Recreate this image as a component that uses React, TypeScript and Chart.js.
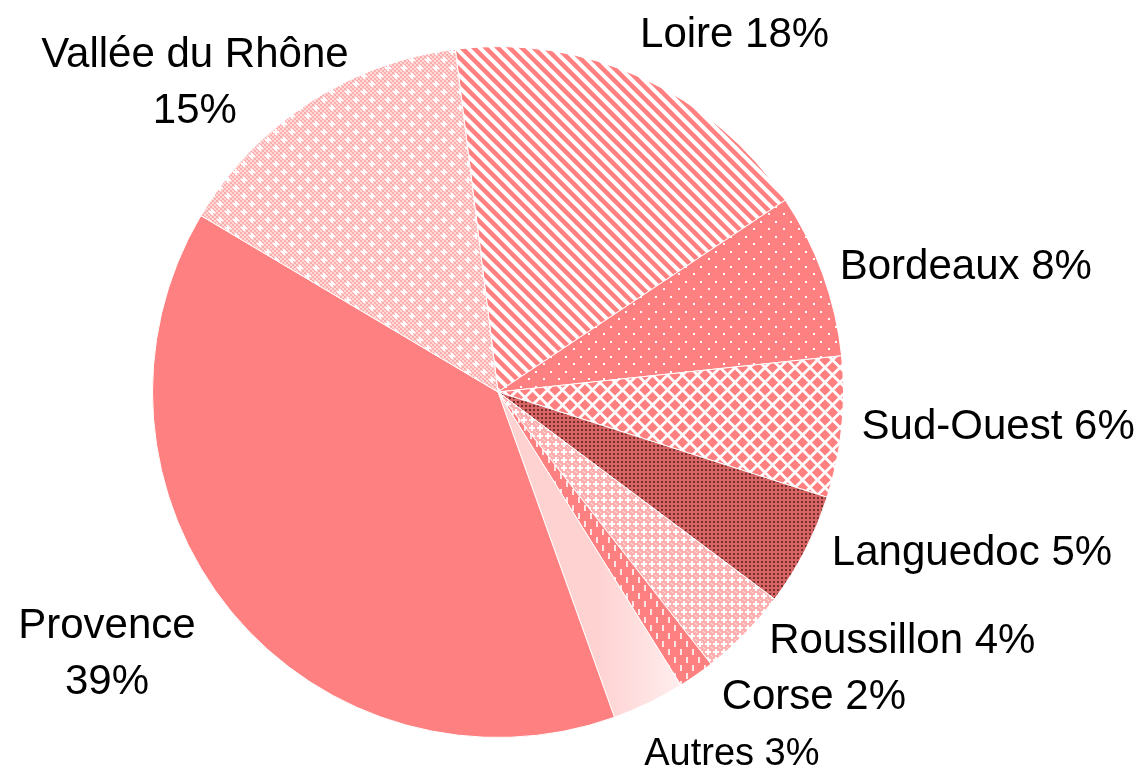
import React, { useEffect, useRef } from 'react';
import { Chart, registerables } from 'chart.js';

Chart.register(...registerables);

// ---- data ----
const regions = ['Loire', 'Bordeaux', 'Sud-Ouest', 'Languedoc', 'Roussillon', 'Corse', 'Autres', 'Provence', 'Vallée du Rhône'];
const shares = [17.6, 7.7, 6.6, 5.3, 4.2, 1.7, 3.4, 39.0, 14.5];
const percentLabels = ['18%', '8%', '6%', '5%', '4%', '2%', '3%', '39%', '15%'];

// ---- label layout (offsets from a radial anchor just outside each slice) ----
type Lay = { dx: number; dy: number; align: CanvasTextAlign; size: number; twoLine: boolean };
const labelLayout: Lay[] = [
  { dx: -10, dy: -28, align: 'left', size: 42, twoLine: false },
  { dx: -2, dy: -4, align: 'left', size: 42, twoLine: false },
  { dx: 0, dy: -5, align: 'left', size: 42, twoLine: false },
  { dx: 9, dy: -10, align: 'left', size: 42, twoLine: false },
  { dx: 10, dy: -10, align: 'left', size: 42, twoLine: false },
  { dx: 14, dy: 2, align: 'left', size: 42, twoLine: false },
  { dx: -13, dy: 30, align: 'left', size: 38, twoLine: false },
  { dx: -109, dy: -2, align: 'center', size: 42, twoLine: true },
  { dx: -103, dy: -34, align: 'center', size: 42, twoLine: true },
];

const PINK = '#FF8080';

function makePattern(w: number, h: number, draw: (c: CanvasRenderingContext2D) => void): CanvasPattern | string {
  const cv = document.createElement('canvas');
  cv.width = w;
  cv.height = h;
  const c = cv.getContext('2d');
  if (!c) return PINK;
  draw(c);
  const ctx = document.createElement('canvas').getContext('2d');
  const p = ctx ? ctx.createPattern(cv, 'repeat') : null;
  return p || PINK;
}

function buildFills(): (CanvasPattern | string | null)[] {
  // Loire: diagonal stripes
  const S = 12;
  const loire = makePattern(S, S, (c) => {
    c.fillStyle = PINK;
    c.fillRect(0, 0, S, S);
    c.strokeStyle = '#FFFFFF';
    c.lineWidth = 4;
    for (let k = -1; k <= 1; k++) {
      c.beginPath();
      c.moveTo(k * S - 2, -2);
      c.lineTo(k * S + S + 2, S + 2);
      c.stroke();
    }
  });
  // Bordeaux: small white dots, staggered
  const bordeaux = makePattern(15, 15, (c) => {
    c.fillStyle = PINK;
    c.fillRect(0, 0, 15, 15);
    c.fillStyle = '#FFFFFF';
    c.fillRect(3, 3, 2, 2);
    c.fillRect(10, 11, 2, 2);
  });
  // Sud-Ouest: diamond checker
  const sudOuest = makePattern(15, 15, (c) => {
    c.fillStyle = '#FFFFFF';
    c.fillRect(0, 0, 15, 15);
    c.fillStyle = PINK;
    const diamond = (cx: number, cy: number, r: number) => {
      c.beginPath();
      c.moveTo(cx, cy - r);
      c.lineTo(cx + r, cy);
      c.lineTo(cx, cy + r);
      c.lineTo(cx - r, cy);
      c.closePath();
      c.fill();
    };
    const r = 5.6;
    diamond(7.5, 7.5, r);
    diamond(0, 0, r);
    diamond(15, 0, r);
    diamond(0, 15, r);
    diamond(15, 15, r);
  });
  // Languedoc: dark fine grid
  const languedoc = makePattern(4, 4, (c) => {
    c.fillStyle = '#D86464';
    c.fillRect(0, 0, 4, 4);
    c.fillStyle = '#743030';
    c.fillRect(1, 1, 2, 2);
  });
  // Roussillon: light lattice
  const roussillon = makePattern(8, 8, (c) => {
    c.fillStyle = '#FFB0B0';
    c.fillRect(0, 0, 8, 8);
    c.fillStyle = '#FFFFFF';
    c.fillRect(3, 1, 2, 6);
    c.fillRect(1, 3, 6, 2);
    c.fillStyle = '#FFDCDC';
    c.fillRect(0, 0, 1, 1);
    c.fillRect(7, 7, 1, 1);
  });
  // Corse: short vertical dashes
  const corse = makePattern(12, 16, (c) => {
    c.fillStyle = PINK;
    c.fillRect(0, 0, 12, 16);
    c.fillStyle = '#FFE6E6';
    c.fillRect(2, 1, 2, 6);
    c.fillRect(8, 9, 2, 6);
  });
  // Vallée du Rhône: fine checker with white stars
  const vallee = makePattern(16, 16, (c) => {
    for (let y = 0; y < 16; y += 2) {
      for (let x = 0; x < 16; x += 2) {
        c.fillStyle = ((x + y) / 2) % 2 === 0 ? '#FFAEAE' : '#FFDADA';
        c.fillRect(x, y, 2, 2);
      }
    }
    c.fillStyle = '#FFFFFF';
    const star = (x: number, y: number) => {
      c.fillRect(x - 1, y - 3, 2, 6);
      c.fillRect(x - 3, y - 1, 6, 2);
    };
    star(4, 4);
    star(12, 12);
  });
  return [loire, bordeaux, sudOuest, languedoc, roussillon, corse, null, PINK, vallee];
}

const labelPlugin = {
  id: 'sliceLabels',
  afterDatasetsDraw(chart: any) {
    const ctx: CanvasRenderingContext2D = chart.ctx;
    const meta = chart.getDatasetMeta(0);
    meta.data.forEach((arc: any, i: number) => {
      const { x, y, startAngle, endAngle, outerRadius } = arc.getProps(['x', 'y', 'startAngle', 'endAngle', 'outerRadius'], true);
      const mid = (startAngle + endAngle) / 2;
      const ax = x + Math.cos(mid) * (outerRadius + 20);
      const ay = y + Math.sin(mid) * (outerRadius + 20);
      const lay = labelLayout[i];
      ctx.save();
      ctx.font = `${lay.size}px "Liberation Sans", Arial, sans-serif`;
      ctx.fillStyle = '#000000';
      ctx.textAlign = lay.align;
      ctx.textBaseline = 'alphabetic';
      const lines = lay.twoLine ? [regions[i], percentLabels[i]] : [regions[i] + ' ' + percentLabels[i]];
      lines.forEach((t, k) => {
        ctx.fillText(t, ax + lay.dx, ay + lay.dy + 0.36 * lay.size + k * 56);
      });
      ctx.restore();
    });
  },
};

export default function App() {
  const ref = useRef<HTMLCanvasElement | null>(null);

  useEffect(() => {
    if (!ref.current) return;
    const fills = buildFills();
    const chart = new Chart(ref.current, {
      type: 'pie',
      data: {
        labels: regions,
        datasets: [
          {
            data: shares,
            backgroundColor: (context: any) => {
              const i = context.dataIndex;
              if (i === 6) {
                const area = context.chart.chartArea;
                if (!area) return '#FFDDDD';
                const cx = (area.left + area.right) / 2;
                const g = context.chart.ctx.createLinearGradient(cx + 100, 0, cx + 190, 0);
                g.addColorStop(0, '#FFD2D2');
                g.addColorStop(1, '#FFF0F0');
                return g;
              }
              return fills[i] as any;
            },
            borderColor: '#FFFFFF',
            borderWidth: 1,
          },
        ],
      },
      options: {
        animation: false,
        responsive: false,
        maintainAspectRatio: false,
        rotation: -7.1,
        layout: { padding: { left: 152, top: 46, right: 293, bottom: 29 } },
        plugins: {
          legend: { display: false },
          tooltip: { enabled: false },
        },
      },
      plugins: [labelPlugin],
    });
    return () => chart.destroy();
  }, []);

  return (
    <div style={{ position: 'fixed', left: 0, top: 0, width: 1137, height: 767, background: '#FFFFFF' }}>
      <canvas ref={ref} width={1137} height={767} style={{ display: 'block' }} />
    </div>
  );
}
